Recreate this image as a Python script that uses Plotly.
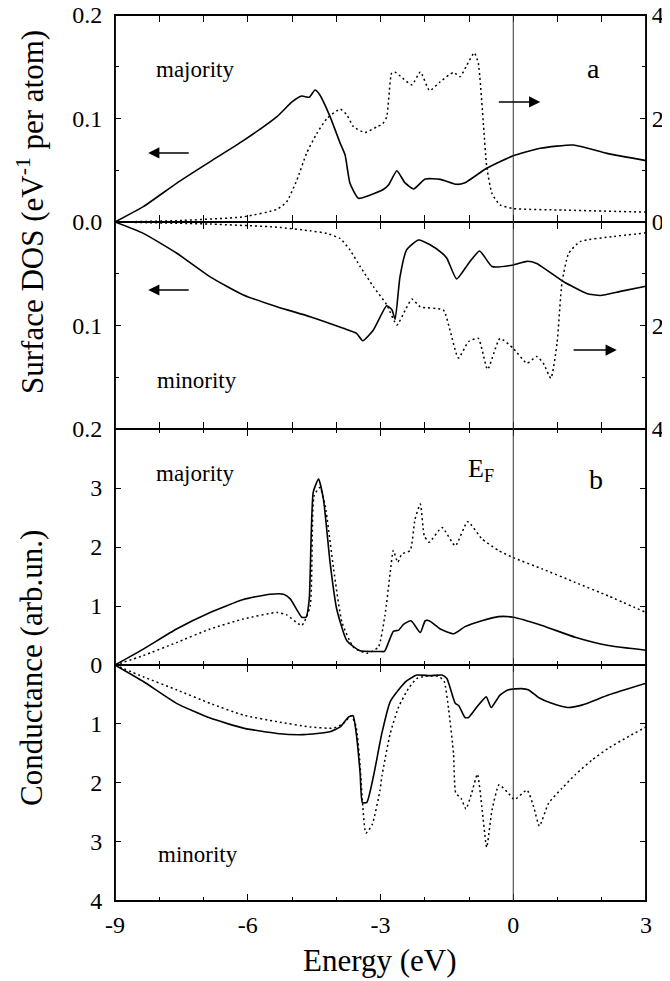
import plotly.graph_objects as go

# ---------------- data (energy in eV) ----------------
# Panel a: surface DOS, majority
a_maj_dos_x = [-9.0, -8.36, -7.61, -6.85, -6.10, -5.34, -5.0, -4.78, -4.61, -4.48, -4.37, -4.14, -3.91, -3.80, -3.69, -3.50, -3.23, -2.93, -2.82, -2.63, -2.45, -2.25, -1.99, -1.65, -1.28, -1.09, -0.60, 0.0, 0.61, 1.36, 2.12, 3.0]
a_maj_dos_y = [0.0, 0.0148, 0.0374, 0.0583, 0.0786, 0.1018, 0.116, 0.1217, 0.1205, 0.1275, 0.1227, 0.1018, 0.076, 0.0647, 0.0374, 0.0229, 0.0261, 0.0316, 0.0357, 0.0495, 0.038, 0.0319, 0.0415, 0.0412, 0.0364, 0.038, 0.0519, 0.064, 0.0712, 0.0744, 0.0663, 0.0593]
# right axis quantity, majority
a_maj_r_x = [-9.0, -7.61, -6.10, -5.34, -5.12, -4.89, -4.67, -4.44, -4.21, -3.91, -3.76, -3.61, -3.35, -3.08, -2.95, -2.86, -2.75, -2.68, -2.50, -2.29, -2.10, -1.89, -1.65, -1.35, -1.20, -1.05, -0.88, -0.79, -0.67, -0.60, -0.48, -0.30, 0.0, 1.14, 3.0]
a_maj_r_y = [0.0, 0.025, 0.10, 0.245, 0.39, 0.81, 1.33, 1.71, 2.0, 2.18, 2.07, 1.84, 1.73, 1.84, 1.90, 2.03, 2.87, 2.90, 2.78, 2.65, 2.90, 2.54, 2.71, 2.89, 2.81, 3.03, 3.27, 3.07, 1.84, 1.07, 0.55, 0.33, 0.26, 0.23, 0.19]
# Panel a: surface DOS, minority
a_min_dos_x = [-9.0, -8.36, -7.61, -6.85, -6.10, -5.34, -4.59, -3.84, -3.54, -3.40, -3.16, -2.86, -2.74, -2.67, -2.56, -2.41, -2.14, -1.88, -1.61, -1.50, -1.28, -1.01, -0.76, -0.48, 0.0, 0.31, 0.53, 1.14, 1.66, 1.97, 2.42, 3.0]
a_min_dos_y = [0.0, 0.011, 0.030, 0.053, 0.0705, 0.0818, 0.0915, 0.1027, 0.1076, 0.1147, 0.1043, 0.081, 0.085, 0.094, 0.053, 0.027, 0.0174, 0.022, 0.030, 0.035, 0.055, 0.040, 0.028, 0.043, 0.0415, 0.038, 0.040, 0.0577, 0.069, 0.071, 0.067, 0.062]
a_min_r_x = [-9.0, -6.85, -5.34, -4.59, -4.21, -3.91, -3.69, -3.46, -3.16, -2.86, -2.63, -2.44, -2.29, -2.10, -1.58, -1.43, -1.24, -1.01, -0.79, -0.58, -0.30, 0.0, 0.31, 0.53, 0.68, 0.85, 0.99, 1.10, 1.25, 1.51, 2.27, 3.0]
a_min_r_y = [0.0, 0.04, 0.10, 0.17, 0.22, 0.32, 0.54, 0.86, 1.25, 1.60, 1.99, 1.70, 1.49, 1.64, 1.70, 2.09, 2.63, 2.31, 2.25, 2.85, 2.25, 2.44, 2.73, 2.60, 2.73, 3.02, 2.34, 1.18, 0.61, 0.38, 0.28, 0.21]

# Panel b: conductance, majority
b_maj_solid_x = [-9.0, -8.36, -7.61, -6.85, -6.10, -5.50, -5.19, -5.04, -4.78, -4.68, -4.61, -4.52, -4.40, -4.29, -4.14, -3.99, -3.76, -3.46, -3.01, -2.91, -2.71, -2.59, -2.48, -2.31, -2.10, -1.99, -1.90, -1.65, -1.34, -1.09, -0.71, -0.33, 0.0, 0.65, 1.40, 2.15, 3.0]
b_maj_solid_y = [0.0, 0.27, 0.61, 0.89, 1.11, 1.20, 1.20, 1.12, 0.81, 0.81, 1.12, 2.93, 3.15, 2.81, 1.74, 0.95, 0.41, 0.24, 0.23, 0.23, 0.57, 0.59, 0.69, 0.75, 0.55, 0.75, 0.75, 0.61, 0.53, 0.65, 0.75, 0.82, 0.81, 0.67, 0.47, 0.33, 0.25]
b_maj_dot_x = [-9.0, -8.36, -7.61, -6.85, -6.10, -5.34, -5.12, -4.78, -4.59, -4.50, -4.37, -4.25, -4.06, -3.87, -3.61, -3.31, -3.05, -2.90, -2.78, -2.71, -2.61, -2.52, -2.33, -2.22, -2.10, -2.01, -1.90, -1.61, -1.31, -1.03, -0.71, -0.33, 0.0, 0.65, 1.40, 2.15, 3.0]
b_maj_dot_y = [0.0, 0.16, 0.38, 0.61, 0.78, 0.89, 0.85, 0.67, 1.0, 2.87, 3.01, 2.70, 1.63, 0.72, 0.30, 0.20, 0.30, 0.84, 1.57, 1.94, 1.74, 1.88, 1.94, 2.47, 2.73, 2.19, 2.08, 2.33, 2.02, 2.43, 2.14, 1.94, 1.82, 1.63, 1.40, 1.17, 0.89]
# Panel b: conductance, minority
b_min_solid_x = [-9.0, -8.36, -7.61, -6.85, -6.10, -5.34, -4.74, -4.14, -3.91, -3.72, -3.62, -3.54, -3.46, -3.41, -3.31, -3.16, -2.97, -2.78, -2.59, -2.41, -2.18, -1.88, -1.61, -1.50, -1.31, -1.23, -1.09, -1.01, -0.82, -0.61, -0.50, -0.30, -0.11, 0.19, 0.34, 0.57, 0.87, 1.23, 1.55, 2.15, 3.0]
b_min_solid_y = [0.0, 0.28, 0.65, 0.90, 1.07, 1.16, 1.18, 1.13, 1.05, 0.88, 0.86, 1.21, 1.84, 2.33, 2.33, 1.89, 1.16, 0.62, 0.42, 0.27, 0.17, 0.18, 0.17, 0.23, 0.65, 0.69, 0.89, 0.89, 0.71, 0.54, 0.72, 0.51, 0.42, 0.40, 0.42, 0.55, 0.65, 0.72, 0.68, 0.51, 0.31]
b_min_dot_x = [-9.0, -8.36, -7.61, -6.85, -6.10, -5.34, -4.59, -4.06, -3.84, -3.66, -3.55, -3.47, -3.40, -3.33, -3.19, -3.01, -2.97, -2.78, -2.59, -2.37, -2.18, -1.99, -1.69, -1.56, -1.46, -1.35, -1.30, -1.18, -1.07, -0.94, -0.81, -0.71, -0.60, -0.48, -0.32, -0.14, 0.03, 0.31, 0.46, 0.59, 0.80, 1.10, 1.40, 1.78, 2.15, 2.61, 3.0]
b_min_dot_y = [0.0, 0.20, 0.42, 0.65, 0.85, 0.96, 1.05, 1.07, 0.99, 0.86, 1.05, 1.61, 2.40, 2.85, 2.71, 2.12, 1.89, 1.16, 0.71, 0.40, 0.23, 0.19, 0.19, 0.28, 0.76, 1.50, 2.17, 2.26, 2.44, 2.17, 1.85, 2.40, 3.09, 2.46, 2.03, 2.15, 2.28, 2.12, 2.40, 2.73, 2.34, 2.09, 1.86, 1.61, 1.41, 1.21, 1.05]

x_ticks = [-9, -6, -3, 0, 3]
x_ticktext = ["-9", "-6", "-3", "0", "3"]

# ---------------- figure ----------------
FONT = "Liberation Serif"
BLACK = "#000000"
solid = dict(color=BLACK, width=1.6, shape="spline", smoothing=0.5)
dotted = dict(color=BLACK, width=1.5, dash="2px,3px", shape="spline", smoothing=0.5)

fig = go.Figure()
fig.add_trace(go.Scatter(x=a_maj_dos_x, y=a_maj_dos_y, mode="lines", line=solid, xaxis="x", yaxis="y"))
fig.add_trace(go.Scatter(x=a_maj_r_x, y=a_maj_r_y, mode="lines", line=dotted, xaxis="x", yaxis="y2"))
fig.add_trace(go.Scatter(x=a_min_dos_x, y=a_min_dos_y, mode="lines", line=solid, xaxis="x2", yaxis="y3"))
fig.add_trace(go.Scatter(x=a_min_r_x, y=a_min_r_y, mode="lines", line=dotted, xaxis="x2", yaxis="y4"))
fig.add_trace(go.Scatter(x=b_maj_solid_x, y=b_maj_solid_y, mode="lines", line=solid, xaxis="x3", yaxis="y5"))
fig.add_trace(go.Scatter(x=b_maj_dot_x, y=b_maj_dot_y, mode="lines", line=dotted, xaxis="x3", yaxis="y5"))
fig.add_trace(go.Scatter(x=b_min_solid_x, y=b_min_solid_y, mode="lines", line=solid, xaxis="x4", yaxis="y6"))
fig.add_trace(go.Scatter(x=b_min_dot_x, y=b_min_dot_y, mode="lines", line=dotted, xaxis="x4", yaxis="y6"))

tickfont = dict(family=FONT, size=24, color=BLACK)
LW = 1.0

def xax(anchor, labels=False):
    return dict(anchor=anchor, domain=[0, 1], range=[-9, 3], showline=True, linecolor=BLACK, linewidth=LW,
                mirror="allticks", ticks="inside", ticklen=7, tickwidth=1.2, tickcolor=BLACK,
                tickmode="array", tickvals=x_ticks, ticktext=x_ticktext, showticklabels=labels,
                minor=dict(ticks="inside", ticklen=4, tickwidth=1.2, tickcolor=BLACK, dtick=1, tick0=-9),
                showgrid=False, zeroline=False, tickfont=tickfont, ticklabelstandoff=2, automargin=False,
                ticklabeloverflow="allow")

def yax(anchor, dom, rng, vals, texts, minor_vals, side="left", overlaying=None, mirror=True, standoff=7):
    d = dict(anchor=anchor, domain=dom, range=rng, showline=True, linecolor=BLACK, linewidth=LW,
             mirror=mirror, ticks="inside", ticklen=6, tickwidth=1.2, tickcolor=BLACK,
             tickmode="array", tickvals=vals, ticktext=texts, side=side,
             minor=dict(ticks="inside", ticklen=4, tickwidth=1.2, tickcolor=BLACK, tickvals=minor_vals),
             showgrid=False, zeroline=False, tickfont=tickfont, ticklabelstandoff=standoff, automargin=False,
             ticklabeloverflow="allow")
    if overlaying:
        d["overlaying"] = overlaying
        d.pop("domain")
    return d

D_A_TOP = [0.76637, 1.0]
D_A_BOT = [0.53273, 0.76637]
D_B_TOP = [0.26637, 0.53273]
D_B_BOT = [0.0, 0.26637]

# the page adds an 8px body margin: the plot area lands at screen x 115..646, y 15..901
fig.update_layout(
    width=670, height=981,
    margin=dict(l=107, r=32, t=7, b=88, autoexpand=False),
    paper_bgcolor="white", plot_bgcolor="white",
    showlegend=False,
    font=dict(family=FONT, color=BLACK),
    xaxis=xax("y"),
    xaxis2=xax("y3"),
    xaxis3=xax("y5"),
    xaxis4=xax("y6", labels=True),
    yaxis=yax("x", D_A_TOP, [0, 0.2], [0, 0.1, 0.2], ["0.0", "0.1", "0.2"], [0.05, 0.15], mirror=False),
    yaxis2=yax("x", None, [0, 4], [0, 2, 4], ["0", "2", "4"], [1, 3], side="right", overlaying="y", mirror=False, standoff=0),
    yaxis3=yax("x2", D_A_BOT, [0.2, 0], [0.1, 0.2], ["0.1", "0.2"], [0.05, 0.15], mirror=False),
    yaxis4=yax("x2", None, [4, 0], [2, 4], ["2", "4"], [1, 3], side="right", overlaying="y3", mirror=False, standoff=0),
    yaxis5=yax("x3", D_B_TOP, [0, 4], [0, 1, 2, 3, 4], ["0", "1", "2", "3", ""], [], mirror="allticks"),
    yaxis6=yax("x4", D_B_BOT, [4, 0], [1, 2, 3, 4], ["1", "2", "3", "4"], [], mirror="allticks"),
)

# outer frame
fig.add_shape(type="rect", xref="paper", yref="paper", x0=0, x1=1, y0=0, y1=1,
              line=dict(color=BLACK, width=1.8))
# Fermi level line
fig.add_shape(type="line", xref="x", yref="paper", x0=0, x1=0, y0=0, y1=1,
              line=dict(color="#333333", width=1))

# screen pixel -> paper coords (plot area spans x 115..646, y 15..901 on screen)
def px2paper(px, py):
    return (px - 115) / 531.0, (901 - py) / 886.0

def label(text, px, py, size=23):
    x, y = px2paper(px, py)
    fig.add_annotation(text=text, xref="paper", yref="paper", x=x, y=y, showarrow=False,
                       xanchor="center", yanchor="middle", font=dict(family=FONT, size=size, color=BLACK))

label("majority", 195, 70)
label("a", 593, 68, size=28)
label("minority", 197, 380)
label("majority", 195, 474)
label("E<sub>F</sub>", 481, 470, size=26)
label("b", 596, 479, size=28)
label("minority", 198, 854)

# axis titles
def vtitle(text, px, py):
    x, y = px2paper(px, py)
    fig.add_annotation(text=text, xref="paper", yref="paper", x=x, y=y, showarrow=False, textangle=-90,
                       xanchor="center", yanchor="middle", font=dict(family=FONT, size=31, color=BLACK))

vtitle("Surface DOS (eV<sup>-1</sup> per atom)", 30, 212)
vtitle("Conductance (arb.un.)", 31, 668)
x, y = px2paper(380, 960)
fig.add_annotation(text="Energy (eV)", xref="paper", yref="paper", x=x, y=y, showarrow=False,
                   xanchor="center", yanchor="middle", font=dict(family=FONT, size=31, color=BLACK))

# arrows (head, tail) in data coordinates of each sub-panel
def arrow(xh, yh, xt, yt, xref, yref):
    fig.add_annotation(x=xh, y=yh, ax=xt, ay=yt, xref=xref, yref=yref, axref=xref, ayref=yref,
                       showarrow=True, arrowhead=2, arrowsize=1.4, arrowwidth=1.6, arrowcolor=BLACK, text="")

arrow(-8.25, 0.0667, -7.30, 0.0667, "x", "y")
arrow(-8.25, 0.0657, -7.30, 0.0657, "x2", "y3")
arrow(0.61, 0.116, -0.36, 0.116, "x", "y")
arrow(2.34, 0.1237, 1.33, 0.1237, "x2", "y3")

fig.write_html("out.html")
